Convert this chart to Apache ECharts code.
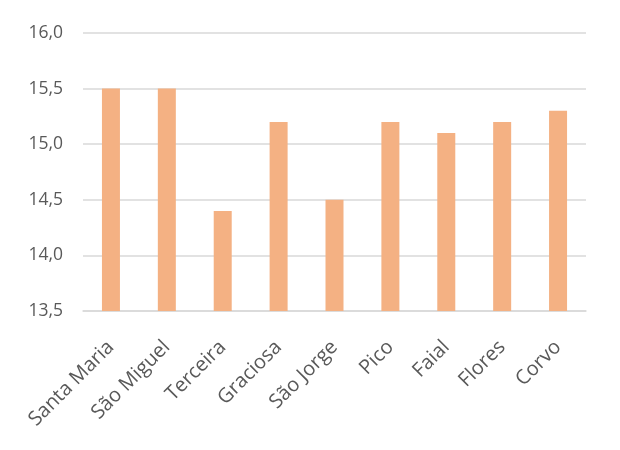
<!DOCTYPE html>
<html>
<head>
<meta charset="utf-8">
<script src="https://cdn.jsdelivr.net/npm/echarts@6/dist/echarts.min.js"></script>
<style>
    html, body { margin: 0; padding: 0; background: #fff; }
    #chart { width: 620px; height: 450px; }
</style>
</head>
<body>
<div id="chart"></div>
<script>
    const islands = ['Santa Maria', 'São Miguel', 'Terceira', 'Graciosa', 'São Jorge', 'Pico', 'Faial', 'Flores', 'Corvo'];
    const values = [15.5, 15.5, 14.4, 15.2, 14.5, 15.2, 15.1, 15.2, 15.3];

    const font = '"Open Sans", "Noto Sans", sans-serif';

    const option = {
        animation: false,
        grid: {
            left: 83,
            right: 34,
            top: 33,
            bottom: 139
        },
        xAxis: {
            type: 'category',
            data: islands,
            axisTick: { show: false },
            axisLine: { lineStyle: { color: '#d9d9d9', width: 1.5 } },
            axisLabel: {
                rotate: 45,
                color: '#595959',
                fontSize: 20,
                fontFamily: font,
                margin: 33
            }
        },
        yAxis: {
            type: 'value',
            min: 13.5,
            max: 16,
            interval: 0.5,
            axisLine: { show: false },
            axisTick: { show: false },
            splitLine: { lineStyle: { color: '#d9d9d9', width: 1.5 } },
            axisLabel: {
                color: '#595959',
                fontSize: 17.5,
                fontFamily: font,
                margin: 20,
                formatter: v => v.toFixed(1).replace('.', ',')
            }
        },
        series: [
            {
                type: 'bar',
                data: values,
                barWidth: 18,
                itemStyle: { color: '#f4b183' }
            }
        ]
    };

    const chart = echarts.init(document.getElementById('chart'));
    chart.setOption(option);
</script>
</body>
</html>
